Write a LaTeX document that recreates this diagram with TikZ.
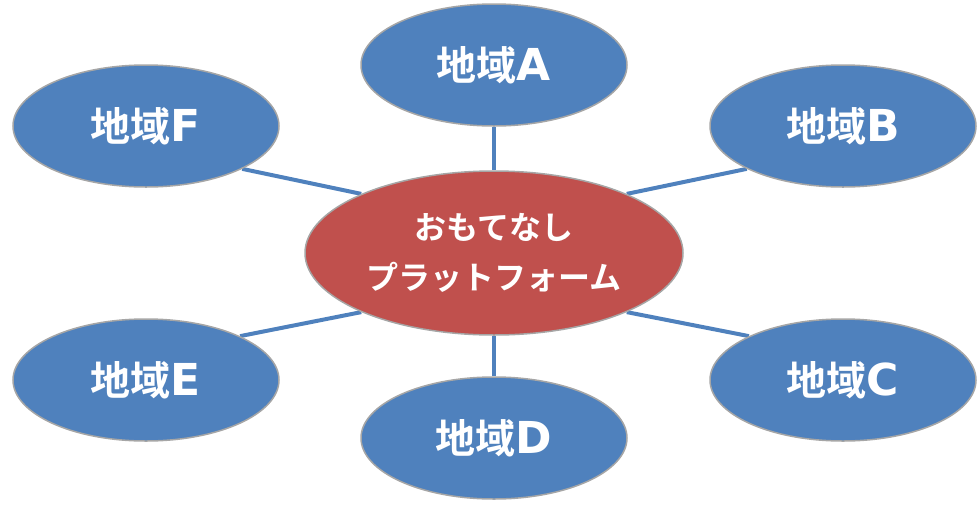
\documentclass[tikz,border=0pt]{standalone}
\usepackage{fontspec}
\newfontfamily\jpfont{Noto Sans CJK JP}[BoldFont={Noto Sans CJK JP Bold}]
\newfontfamily\latfont{DejaVu Sans}[BoldFont={DejaVu Sans Bold}]
\usetikzlibrary{shapes.geometric,backgrounds}
\definecolor{areablue}{HTML}{4F81BD}
\definecolor{hubred}{HTML}{C0504D}
\definecolor{rimgray}{HTML}{A6A6A6}
\tikzset{
  area/.style={ellipse, draw=rimgray, line width=1.5pt, fill=areablue, text=white,
    minimum width=266pt, minimum height=122pt, inner sep=0pt,
    font=\fontsize{40}{44}\selectfont\bfseries},
  hub/.style={ellipse, draw=rimgray, line width=1.5pt, fill=hubred, text=white,
    minimum width=378pt, minimum height=164pt, inner sep=0pt, align=center,
    font=\jpfont\fontsize{32}{50}\selectfont\bfseries},
  link/.style={draw=areablue, line width=4pt}
}
\newcommand{\areatext}[1]{{\jpfont 地域}{\latfont\fontsize{44}{44}\selectfont #1}}
\begin{document}
\begin{tikzpicture}[x=1pt,y=-1pt]
\useasboundingbox (0,0) rectangle (977,509);
\node[hub] (P) at (494,253) {おもてなし\\プラットフォーム};
\node[area] (A) at (494,65) {\areatext{A}};
\node[area] (B) at (843,126) {\areatext{B}};
\node[area] (C) at (843,380) {\areatext{C}};
\node[area] (D) at (494,438) {\areatext{D}};
\node[area] (E) at (146,380) {\areatext{E}};
\node[area] (F) at (146,126) {\areatext{F}};
\begin{scope}[on background layer]
\draw[link] (A.south) -- (P.north);
\draw[link] (D.north) -- (P.south);
\draw[link] (F.-24) -- (P.156);
\draw[link] (B.-156) -- (P.24);
\draw[link] (E.25) -- (P.-156);
\draw[link] (C.155) -- (P.-24);
\end{scope}
\end{tikzpicture}
\end{document}
